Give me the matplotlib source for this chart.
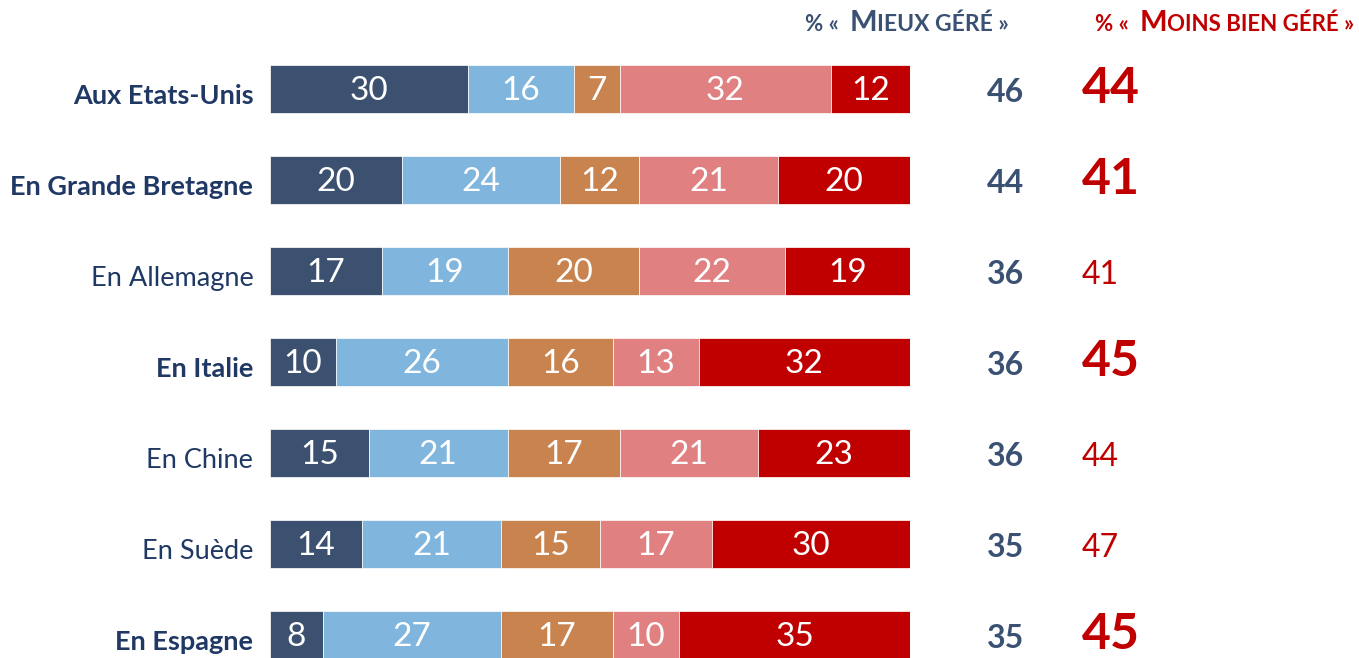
import matplotlib
matplotlib.use("Agg")
import numpy as np
from matplotlib import pyplot as plt
from matplotlib.transforms import offset_copy, ScaledTranslation

# Data
countries = ["Aux Etats-Unis", "En Grande Bretagne", "En Allemagne", "En Italie",
             "En Chine", "En Suède", "En Espagne"]
bold_rows = [True, True, False, True, False, False, True]
tres_mieux = [30, 20, 17, 10, 15, 14, 8]
plutot_mieux = [16, 24, 19, 26, 21, 21, 27]
pareil = [7, 12, 20, 16, 17, 15, 17]
plutot_moins = [32, 21, 22, 13, 21, 17, 10]
beaucoup_moins = [12, 20, 19, 32, 23, 30, 35]
total_mieux = [46, 44, 36, 36, 36, 35, 35]
total_moins = [44, 41, 41, 45, 44, 47, 45]

series = [tres_mieux, plutot_mieux, pareil, plutot_moins, beaucoup_moins]
colors = ["#3C5070", "#80B6DE", "#C8834F", "#E08080", "#C00000"]

navy = "#1F3864"
navy2 = "#3B5173"
red = "#C00000"

plt.rcParams['font.family'] = ['Lato', 'DejaVu Sans']

fig = plt.figure(figsize=(13.59, 6.58), dpi=100)
ax = fig.add_axes([270 / 1359, 0, 640 / 1359, 1])
ax.set_xlim(0, 97)
ax.set_ylim(6.253, -0.978)

y = np.arange(len(countries))
left = np.zeros(len(countries))
for vals, c in zip(series, colors):
    vals = np.array(vals)
    ax.barh(y, vals, left=left, height=0.53, color=c, edgecolor="white", linewidth=0.5)
    for yi, l, v in zip(y, left, vals):
        ax.text(l + v / 2, yi + 0.02, str(v), ha="center", va="center",
                color="white", fontsize=24)
    left += vals

ax.set_yticks(y)
ax.set_yticklabels(countries)
ax.tick_params(axis="y", length=0, pad=12)
shift = ScaledTranslation(0, -5 / 100, fig.dpi_scale_trans)
for lab, b in zip(ax.get_yticklabels(), bold_rows):
    lab.set_fontsize(19.5)
    lab.set_color(navy)
    lab.set_fontweight("bold" if b else "normal")
    lab.set_transform(lab.get_transform() + shift)
ax.set_xticks([])
for s in ax.spines.values():
    s.set_visible(False)

# totals columns
for yi, m, n, b in zip(y, total_mieux, total_moins, bold_rows):
    ax.text(111.5, yi + 0.04, str(m), ha="center", va="center", color=navy2,
            fontsize=23, fontweight="bold", clip_on=False)
    if b:
        ax.text(123.0, yi - 0.01, str(n), ha="left", va="center", color=red,
                fontsize=36, fontweight="bold", clip_on=False)
    else:
        ax.text(123.0, yi + 0.04, str(n), ha="left", va="center", color=red,
                fontsize=23, clip_on=False)

# headers with small caps
fig.canvas.draw()
renderer = fig.canvas.get_renderer()


def small_caps(x0, y0, pieces, color):
    dx = 0
    for txt, size in pieces:
        tr = offset_copy(ax.transData, fig=fig, x=dx, y=0, units="dots")
        t = ax.text(x0, y0, txt, transform=tr, ha="left", va="baseline",
                    color=color, fontsize=size, fontweight="bold", clip_on=False)
        dx += t.get_window_extent(renderer).width


small_caps(81.1, -0.64, [("% «  ", 16), ("M", 21), ("IEUX GÉRÉ »", 16.5)], navy2)
small_caps(125.0, -0.64, [("% «  ", 16), ("M", 21), ("OINS BIEN GÉRÉ »", 16)], red)

fig.savefig("out.png", dpi=100)
